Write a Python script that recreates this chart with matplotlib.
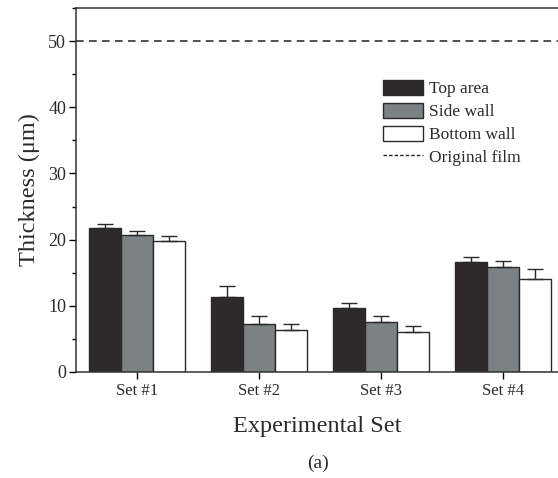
import numpy as np
import matplotlib
matplotlib.use('Agg')
import matplotlib.pyplot as plt
from matplotlib.patches import Patch
from matplotlib.lines import Line2D
from matplotlib.ticker import MultipleLocator

plt.rcParams['font.family'] = ['Liberation Serif', 'DejaVu Serif']
plt.rcParams['text.color'] = '#2a2a2a'
plt.rcParams['axes.labelcolor'] = '#2a2a2a'
plt.rcParams['xtick.labelcolor'] = '#2a2a2a'
plt.rcParams['ytick.labelcolor'] = '#2a2a2a'

# data
sets = ['Set #1', 'Set #2', 'Set #3', 'Set #4']
top_area = [21.7, 11.3, 9.6, 16.6]
top_err = [0.7, 1.7, 0.75, 0.8]
side_wall = [20.65, 7.3, 7.6, 15.9]
side_err = [0.65, 1.1, 0.9, 0.9]
bottom_wall = [19.8, 6.4, 6.0, 14.1]
bottom_err = [0.7, 0.9, 0.9, 1.5]
original_film = 50

fig = plt.figure(figsize=(5.58, 4.78), dpi=100)
ax = fig.add_axes([0.136, 0.222, 0.864, 0.761])

x = np.arange(len(sets))
w = 0.262
series = [
    (top_area, top_err, '#2e2a2b', 'Top area'),
    (side_wall, side_err, '#7c8184', 'Side wall'),
    (bottom_wall, bottom_err, '#ffffff', 'Bottom wall'),
]
for i, (vals, errs, col, lab) in enumerate(series):
    pos = x + (i - 1) * w
    ax.bar(pos, vals, width=w, color=col, edgecolor='#2a2a2a', linewidth=1.0, zorder=2)
    ax.errorbar(pos, vals, yerr=[np.zeros(len(vals)), errs], fmt='none',
                ecolor='#2a2a2a', elinewidth=1.0, capsize=6, capthick=1.0, zorder=3)

ax.axhline(original_film, color='#222222', lw=1.1, dashes=(5, 3.5), zorder=1)

ax.set_xlim(-0.5, 3.45)
ax.set_ylim(0, 55)
ax.set_xticks(x)
ax.set_xticklabels(sets, fontsize=12)
ax.yaxis.set_major_locator(MultipleLocator(10))
ax.yaxis.set_minor_locator(MultipleLocator(5))
ax.tick_params(axis='y', labelsize=13, direction='out', length=5, width=1, pad=2)
ax.tick_params(axis='y', which='minor', direction='out', length=3, width=1)
ax.tick_params(axis='x', direction='out', length=5, width=1, pad=3)
ax.spines['right'].set_visible(False)
for s in ['left', 'bottom', 'top']:
    ax.spines[s].set_linewidth(1.1)
    ax.spines[s].set_color('#333333')

ax.set_ylabel('Thickness (μm)', fontsize=17.5, labelpad=6)
ax.set_xlabel('Experimental Set', fontsize=17.5, labelpad=12)

handles = [
    Patch(facecolor='#2e2a2b', edgecolor='#2a2a2a', label='Top area'),
    Patch(facecolor='#7c8184', edgecolor='#2a2a2a', label='Side wall'),
    Patch(facecolor='#ffffff', edgecolor='#2a2a2a', label='Bottom wall'),
    Line2D([0], [0], color='#222222', lw=1.0, dashes=(2.5, 1.5), label='Original film'),
]
ax.legend(handles=handles, loc='upper left', bbox_to_anchor=(0.62, 0.827),
          frameon=False, fontsize=12.5, handlelength=2.3, handleheight=1.0,
          labelspacing=0.3, handletextpad=0.35, borderpad=0)

fig.text(0.57, 0.03, '(a)', fontsize=14, ha='center', va='center')

fig.savefig('out.png', dpi=100)
